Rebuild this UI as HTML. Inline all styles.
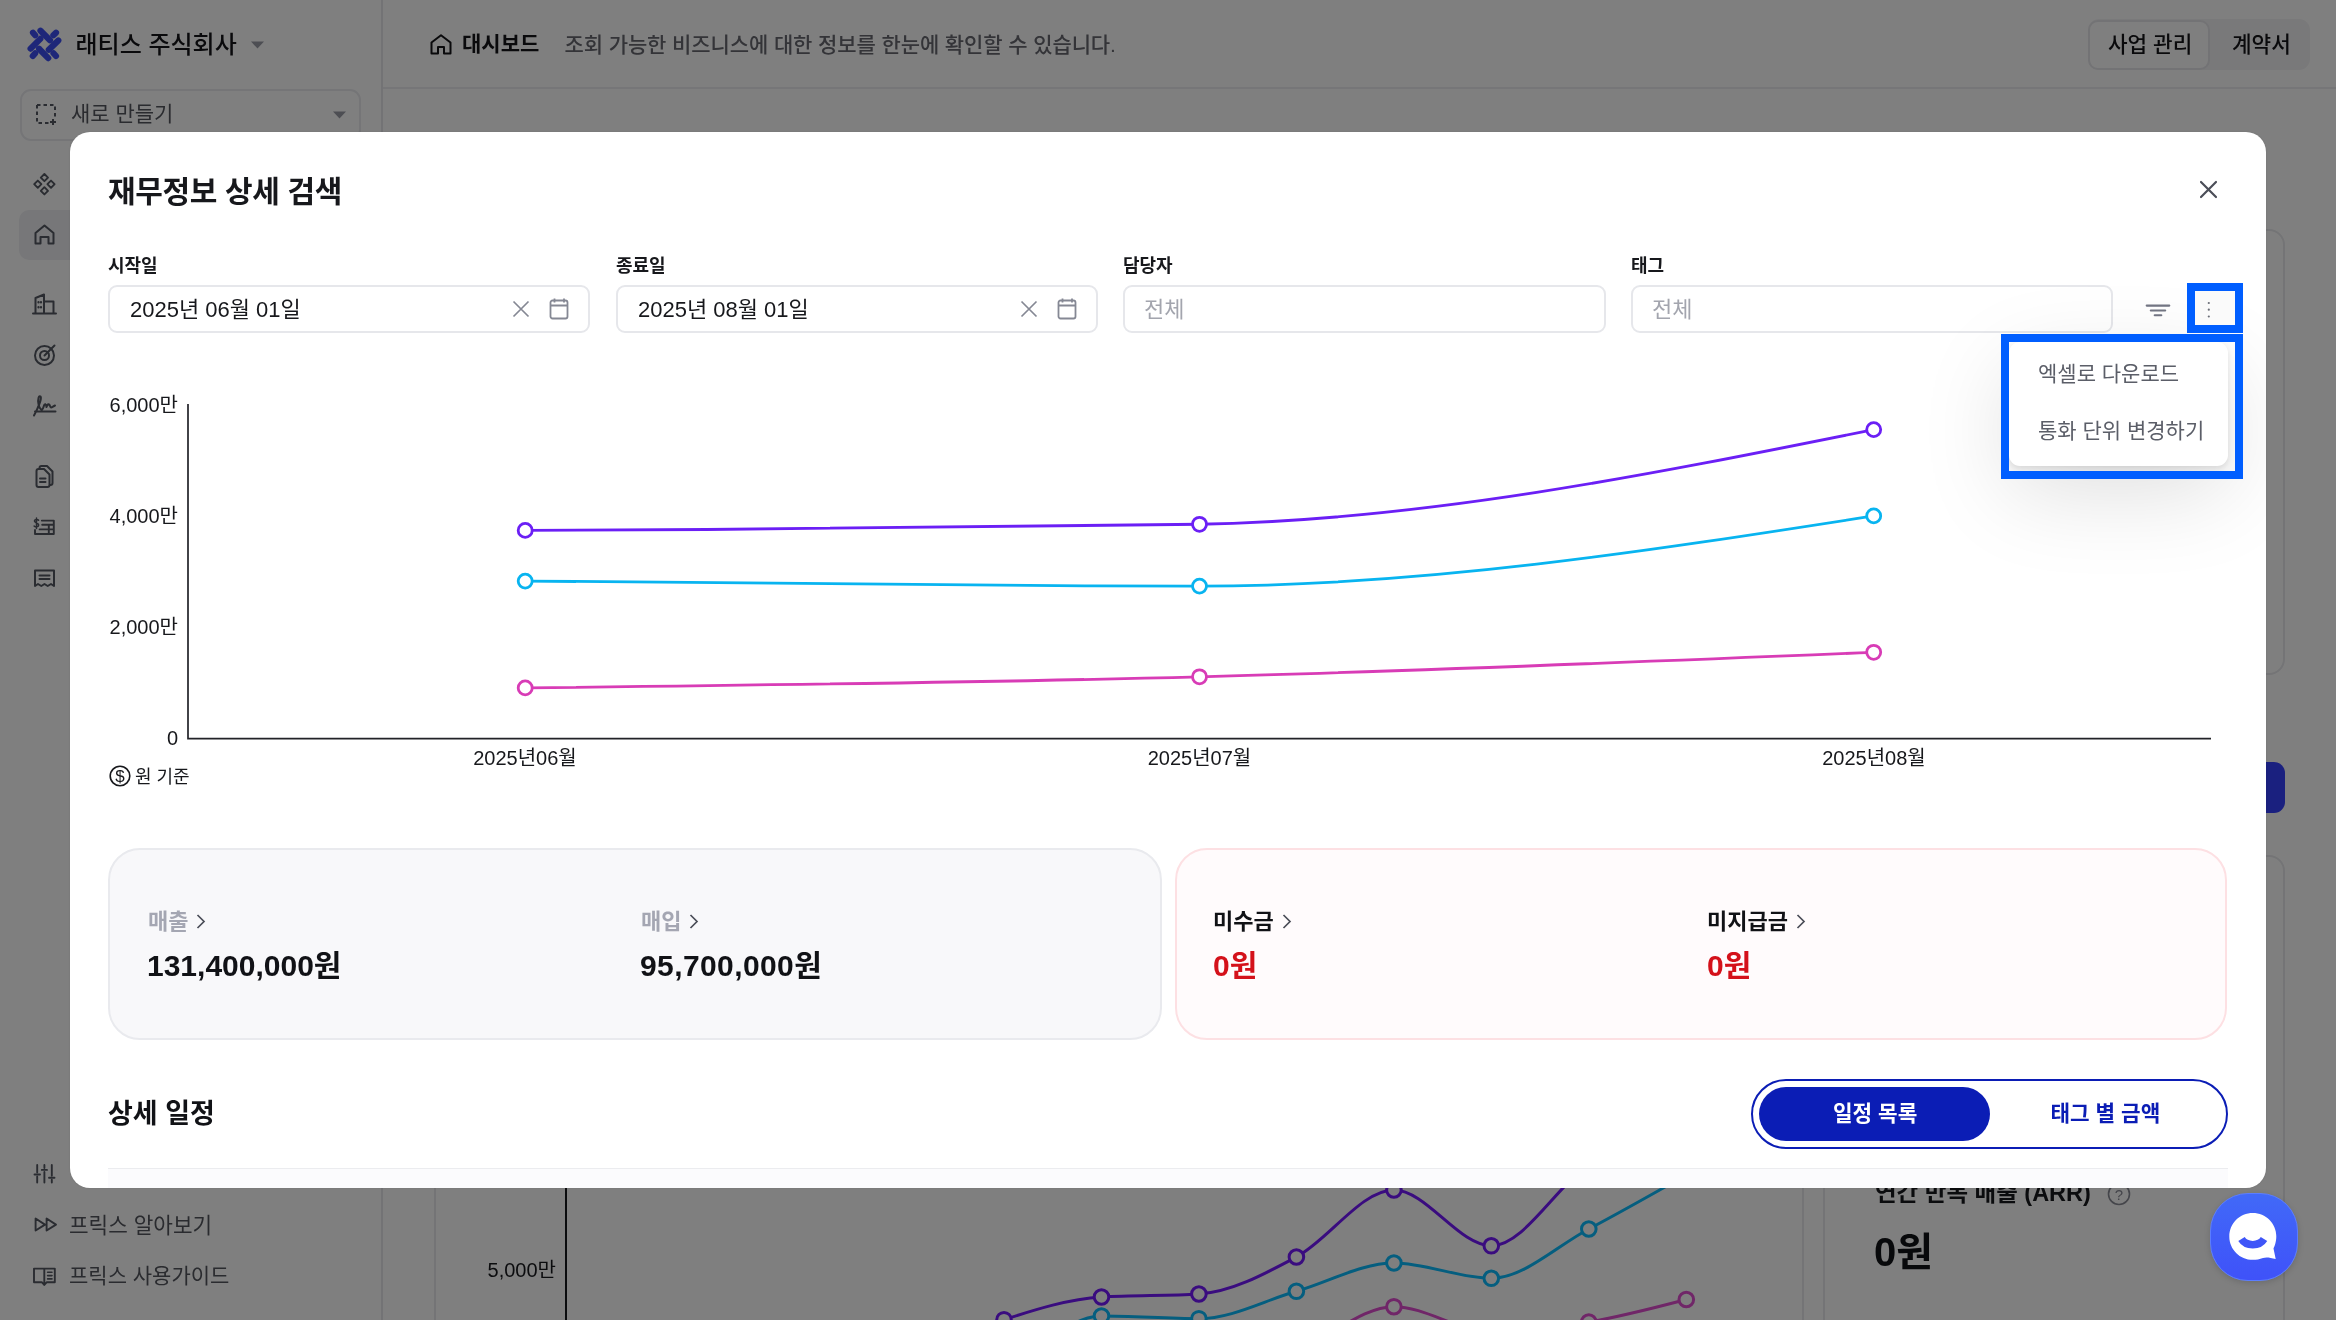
<!DOCTYPE html>
<html lang="ko">
<head>
<meta charset="utf-8">
<title>재무정보 상세 검색</title>
<style>
*{box-sizing:border-box;margin:0;padding:0}
html,body{width:100%;height:100%;overflow:hidden;background:#fff}
#root{position:absolute;left:0;top:0;width:2336px;height:1320px;overflow:hidden;transform-origin:0 0}
body{font-family:"Liberation Sans","Noto Sans CJK KR",sans-serif;color:#17181c;position:relative;-webkit-font-smoothing:antialiased}
#dash,#modal,#chat{will-change:transform}
.a{position:absolute;white-space:nowrap;line-height:1}
svg{position:absolute;overflow:visible}
#dash{position:absolute;left:0;top:0;width:2336px;height:1320px;background:#fff}
#side{position:absolute;left:0;top:0;width:383px;height:1320px;border-right:2px solid #e6e7eb;background:#fff}
#hdr{position:absolute;left:383px;top:0;right:0;height:89px;border-bottom:2px solid #ececf0}
#overlay{position:absolute;left:0;top:0;width:2336px;height:1320px;background:rgba(0,0,0,.5)}
#modal{position:absolute;left:70px;top:132px;width:2196px;height:1056px;background:#fff;border-radius:20px;overflow:hidden;box-shadow:0 0 2px rgba(0,0,0,.12)}
.lbl{font-size:18px;font-weight:700;color:#17181c}
.inp{position:absolute;top:152.5px;height:48.5px;border:2px solid #e6e7eb;border-radius:9px;background:#fff}
.inp .t{position:absolute;left:20px;top:12px;font-size:22px;line-height:1;white-space:nowrap;color:#17181c}
.inp .ph{color:#a3a5ae;left:19px}
.ylab{font-size:20px;color:#17181c;text-align:right;width:100px}
.xlab{font-size:20px;color:#17181c;text-align:center;width:160px}
.card{position:absolute;top:716px;height:192px;border-radius:32px}
.clbl{font-size:22px;font-weight:700}
.cval{font-size:30px;font-weight:700}
</style>
</head>
<body>
<div id="root">
<div id="dash">
  <div id="side">
    <svg style="left:0;top:0" width="70" height="70"><g stroke="#3c4ef2" stroke-width="6.2" stroke-linecap="round" fill="none"><line x1="33" y1="32.7" x2="35.2" y2="35.2"/><line x1="40.5" y1="30.8" x2="50" y2="40.3"/><line x1="53.4" y1="35.2" x2="56" y2="32.7"/><line x1="30.6" y1="48.6" x2="40.3" y2="38.9"/><line x1="48.8" y1="49.8" x2="58.3" y2="40.5"/><line x1="32.8" y1="56" x2="35.2" y2="53.2"/><line x1="39" y1="48.8" x2="48.2" y2="58.1"/><line x1="53.5" y1="53.2" x2="56" y2="56"/></g></svg>
    <div class="a" style="left:75.5px;top:32.5px;font-size:24px;font-weight:500;color:#141418;">래티스 주식회사</div>
    <svg style="left:251px;top:41px" width="13" height="8"><path d="M0,0.5 L13,0.5 L6.5,7.5 Z" fill="#9a9ca6"/></svg>
    <div style="position:absolute;left:20px;top:89px;width:341px;height:52px;border:2px solid #eaebef;border-radius:11px"></div>
    <svg style="left:36px;top:104px" width="22" height="22" viewBox="0 0 22 22">
      <path d="M1,1 H19 V15 M1,1 V19 H15" fill="none" stroke="#545862" stroke-width="2" stroke-dasharray="3.5 3"/>
      <path d="M17,15 V21 M14,18 H20" stroke="#545862" stroke-width="2"/>
    </svg>
    <div class="a" style="left:71px;top:103px;font-size:21px;font-weight:400;color:#55575f;">새로 만들기</div>
    <svg style="left:333px;top:111px" width="13" height="8"><path d="M0,0.5 L13,0.5 L6.5,7.5 Z" fill="#9a9ca6"/></svg>
    <div style="position:absolute;left:19px;top:210px;width:343px;height:50px;border-radius:10px;background:#eeeff2"></div>
    <svg style="left:0;top:0" width="382" height="1320" fill="none" stroke="#545862" stroke-width="2" stroke-linejoin="round" stroke-linecap="round">
      <path stroke-width="1.9" d="M44.4,174.0 L48.0,177.6 L44.4,181.2 L40.8,177.6 Z M44.4,187.20000000000002 L48.0,190.8 L44.4,194.4 L40.8,190.8 Z M37.8,180.6 L41.4,184.2 L37.8,187.79999999999998 L34.199999999999996,184.2 Z M51,180.6 L54.6,184.2 L51,187.79999999999998 L47.4,184.2 Z "/>
      <path d="M35.5,233 L44.5,225.5 L53.5,233 V243.5 H48.5 V237 H40.5 V243.5 H35.5 Z"/>
      <path d="M33,313.5 H56 M35.5,313.5 V298 L44,294.5 V313.5 M44,301.5 H53.5 V313.5"/>
      <path d="M38.5,302 v0.5 M41,302 v0.5 M38.5,307 v0.5 M41,307 v0.5" stroke-width="2.2"/>
      <circle cx="44.5" cy="355.5" r="9.5"/>
      <circle cx="44.5" cy="355.5" r="4.5"/>
      <path d="M44.5,355.5 L54.5,345.5"/>
      <path d="M34,415.5 C38,408 42,398 40.5,396.5 C39,395 37.5,399 38.5,404 C39.5,409 42,412 43.5,407 C45,402.5 46,404 46.5,407 C47.5,404 49,403 50,406 C51,409 52,407 55,405.5 M35,411.5 H55.5"/>
      <path d="M39.5,469 V468 a2,2 0 0 1 2,-2 H47 L52.5,471.5 V483 a2,2 0 0 1 -2,2 H50"/>
      <path d="M36.5,471 a2,2 0 0 1 2,-2 H44 L49.5,474.5 V485 a2,2 0 0 1 -2,2 H38.5 a2,2 0 0 1 -2,-2 Z"/>
      <path d="M40,478.5 H45.5 M40,482 H45.5"/>
      <path d="M35,530 V534 H53.8 V520.6 H41.8 M42.2,524.8 H53.8 M39.6,529.4 H53.8 M48.8,525 V534" stroke-width="1.9"/>
      <path d="M38.6,520.2 C37.8,519.3 34.4,519.1 34.4,521.1 C34.4,523.1 38.7,522.8 38.7,525 C38.7,527.2 35.1,527.3 34.1,526.1 M36.5,518 V528.4" stroke-width="1.5"/>
      <path d="M35,570.5 H54 V586 L51,584 L47.7,586 L44.5,584 L41.3,586 L38,584 L35,586 Z"/>
      <path d="M39.5,575.5 H49.5 M39.5,579 H49.5"/>
      <path d="M37.2,1165 V1172.5 M37.2,1176.5 V1182.5 M44.4,1165 V1168 M44.4,1172 V1182.5 M51.8,1165 V1175.7 M51.8,1179.7 V1182.5" stroke-width="1.9"/>
      <path d="M34.5,1174.5 H40 M41.8,1169.9 H47 M49,1177.7 H54.5" stroke-width="1.9"/>
      <path d="M35.6,1218.5 V1230.5 L45,1224.6 Z M46.6,1218.5 V1230.5 L56,1224.6 Z" stroke-width="1.9"/>
      <path d="M34,1268.6 H54.8 V1282.3 H46.6 L44.3,1285 L42,1282.3 H34 Z M44.3,1268.6 V1284" stroke-width="1.9"/><path d="M47.6,1272.3 H52 M47.6,1275.6 H52 M47.6,1278.9 H52" stroke-width="1.6"/>
    </svg>
    <div class="a" style="left:69px;top:1215.5px;font-size:21.3px;font-weight:400;color:#55575f;">프릭스 알아보기</div>
    <div class="a" style="left:69px;top:1265px;font-size:21px;font-weight:400;color:#55575f;">프릭스 사용가이드</div>
  </div>
  <div id="hdr">
    <svg style="left:47px;top:34px" width="22" height="21" viewBox="0 0 22 21"><path d="M1.5,8.5 L11,1.2 L20.5,8.5 V19.5 H14 V13 H8 V19.5 H1.5 Z" fill="none" stroke="#141418" stroke-width="2" stroke-linejoin="round"/></svg>
    <div class="a" style="left:79px;top:33px;font-size:21px;font-weight:700;color:#141418;">대시보드</div>
    <div class="a" style="left:181.5px;top:34px;font-size:21px;font-weight:500;color:#686971;letter-spacing:-0.1px">조회 가능한 비즈니스에 대한 정보를 한눈에 확인할 수 있습니다.</div>
    <div style="position:absolute;left:1705px;top:19px;width:222px;height:51px;border-radius:11px;background:#f3f3f5"></div>
    <div style="position:absolute;left:1705px;top:19.5px;width:122px;height:50px;border-radius:10px;background:#fff;border:2px solid #e6e6ea"></div>
    <div class="a" style="left:1725px;top:35px;font-size:21.3px;font-weight:500;color:#141418;">사업 관리</div>
    <div class="a" style="left:1849px;top:35px;font-size:21.3px;font-weight:500;color:#141418;">계약서</div>
  </div>
  <div style="position:absolute;left:1700px;top:229px;width:585px;height:446px;border:2px solid #e8e9ec;border-radius:16px"></div>
  <div style="position:absolute;left:2100px;top:762px;width:185px;height:51px;border-radius:11px;background:#3540ff"></div>
  <div style="position:absolute;left:434px;top:855px;width:1851px;height:600px;border:2px solid #e8e9ec;border-radius:16px"></div>
  <div style="position:absolute;left:1802px;top:855px;width:2px;height:600px;background:#e8e9ec"></div>
  <div style="position:absolute;left:1822.5px;top:855px;width:2px;height:600px;background:#e8e9ec"></div>
  <div style="position:absolute;left:565px;top:1100px;width:2px;height:300px;background:#17181c"></div>
  <div class="a" style="left:456px;top:1259.5px;font-size:20px;font-weight:400;color:#17181c;width:100px;text-align:right">5,000만</div>
  <svg style="left:0;top:0" width="2336" height="1320">
<path d="M614.10,1400.00 C646.59,1396.67 679.08,1393.33 711.57,1390.00 C744.06,1386.67 776.55,1385.00 809.04,1380.00 C841.53,1375.00 874.02,1370.05 906.51,1360.00 C939.00,1349.95 971.49,1330.20 1003.98,1319.70 C1036.47,1309.20 1068.96,1299.00 1101.45,1297.00 C1133.94,1295.00 1166.43,1296.00 1198.92,1294.00 C1231.41,1292.00 1263.90,1274.33 1296.39,1257.00 C1328.88,1239.67 1361.37,1190.00 1393.86,1190.00 C1426.35,1190.00 1458.84,1245.80 1491.33,1245.80 C1523.82,1245.80 1556.31,1185.97 1588.80,1165.00 C1621.29,1144.03 1653.78,1132.02 1686.27,1120.00" fill="none" stroke="#7418ff" stroke-width="3"/>
<circle cx="1004.0" cy="1319.7" r="7.3" fill="#fff" stroke="#7418ff" stroke-width="3"/>
<circle cx="1101.5" cy="1297.0" r="7.3" fill="#fff" stroke="#7418ff" stroke-width="3"/>
<circle cx="1198.9" cy="1294.0" r="7.3" fill="#fff" stroke="#7418ff" stroke-width="3"/>
<circle cx="1296.4" cy="1257.0" r="7.3" fill="#fff" stroke="#7418ff" stroke-width="3"/>
<circle cx="1393.9" cy="1190.0" r="7.3" fill="#fff" stroke="#7418ff" stroke-width="3"/>
<circle cx="1491.3" cy="1245.8" r="7.3" fill="#fff" stroke="#7418ff" stroke-width="3"/>
<circle cx="1588.8" cy="1165.0" r="7.3" fill="#fff" stroke="#7418ff" stroke-width="3"/>
<circle cx="1686.3" cy="1120.0" r="7.3" fill="#fff" stroke="#7418ff" stroke-width="3"/>
<path d="M614.10,1420.00 C646.59,1416.67 679.08,1413.33 711.57,1410.00 C744.06,1406.67 776.55,1403.33 809.04,1400.00 C841.53,1396.67 874.02,1395.83 906.51,1390.00 C939.00,1384.17 971.49,1377.33 1003.98,1365.00 C1036.47,1352.67 1068.96,1316.00 1101.45,1316.00 C1133.94,1316.00 1166.43,1318.70 1198.92,1318.70 C1231.41,1318.70 1263.90,1300.58 1296.39,1291.30 C1328.88,1282.02 1361.37,1263.00 1393.86,1263.00 C1426.35,1263.00 1458.84,1278.30 1491.33,1278.30 C1523.82,1278.30 1556.31,1246.22 1588.80,1229.00 C1621.29,1211.78 1653.78,1193.39 1686.27,1175.00" fill="none" stroke="#0bbcff" stroke-width="3"/>
<circle cx="1101.5" cy="1316.0" r="7.3" fill="#fff" stroke="#0bbcff" stroke-width="3"/>
<circle cx="1198.9" cy="1318.7" r="7.3" fill="#fff" stroke="#0bbcff" stroke-width="3"/>
<circle cx="1296.4" cy="1291.3" r="7.3" fill="#fff" stroke="#0bbcff" stroke-width="3"/>
<circle cx="1393.9" cy="1263.0" r="7.3" fill="#fff" stroke="#0bbcff" stroke-width="3"/>
<circle cx="1491.3" cy="1278.3" r="7.3" fill="#fff" stroke="#0bbcff" stroke-width="3"/>
<circle cx="1588.8" cy="1229.0" r="7.3" fill="#fff" stroke="#0bbcff" stroke-width="3"/>
<circle cx="1686.3" cy="1175.0" r="7.3" fill="#fff" stroke="#0bbcff" stroke-width="3"/>
<path d="M614.10,1460.00 C646.59,1456.67 679.08,1453.33 711.57,1450.00 C744.06,1446.67 776.55,1445.00 809.04,1440.00 C841.53,1435.00 874.02,1426.67 906.51,1420.00 C939.00,1413.33 971.49,1406.67 1003.98,1400.00 C1036.47,1393.33 1068.96,1385.00 1101.45,1380.00 C1133.94,1375.00 1166.43,1375.00 1198.92,1370.00 C1231.41,1365.00 1263.90,1360.55 1296.39,1350.00 C1328.88,1339.45 1361.37,1306.70 1393.86,1306.70 C1426.35,1306.70 1458.84,1332.00 1491.33,1332.00 C1523.82,1332.00 1556.31,1327.42 1588.80,1322.00 C1621.29,1316.58 1653.78,1308.04 1686.27,1299.50" fill="none" stroke="#e04cd0" stroke-width="3"/>
<circle cx="1393.9" cy="1306.7" r="7.3" fill="#fff" stroke="#e04cd0" stroke-width="3"/>
<circle cx="1491.3" cy="1332.0" r="7.3" fill="#fff" stroke="#e04cd0" stroke-width="3"/>
<circle cx="1588.8" cy="1322.0" r="7.3" fill="#fff" stroke="#e04cd0" stroke-width="3"/>
<circle cx="1686.3" cy="1299.5" r="7.3" fill="#fff" stroke="#e04cd0" stroke-width="3"/>
  </svg>
  <div class="a" style="left:1875px;top:1182px;font-size:23.5px;font-weight:700;color:#17181c;">연간 반복 매출 (ARR)</div>
  <svg style="left:2107px;top:1182px" width="24" height="24" viewBox="0 0 24 24"><circle cx="12" cy="12" r="10.5" fill="none" stroke="#8a8c96" stroke-width="1.6"/><text x="12" y="17.5" text-anchor="middle" font-size="15" font-family="Liberation Sans,sans-serif" fill="#8a8c96">?</text></svg>
  <div class="a" style="left:1874px;top:1232px;font-size:40px;font-weight:700;color:#111216;">0원</div>
</div>
<div id="overlay"></div>

<div id="modal">
  <div class="a" style="left:38px;top:45px;font-size:30px;font-weight:700;color:#17181c;letter-spacing:-0.35px">재무정보 상세 검색</div>
  <svg style="left:2130px;top:49px" width="17" height="17" viewBox="0 0 17 17"><path d="M1,1 L16,16 M16,1 L1,16" stroke="#4b4e58" stroke-width="2.2" stroke-linecap="round"/></svg>

  <div class="a lbl" style="left:38px;top:125px">시작일</div>
  <div class="a lbl" style="left:546px;top:125px">종료일</div>
  <div class="a lbl" style="left:1053px;top:125px">담당자</div>
  <div class="a lbl" style="left:1561px;top:125px">태그</div>

  <div class="inp" style="left:38px;width:482px"><div class="t">2025년 06월 01일</div></div>
  <div class="inp" style="left:546px;width:482px"><div class="t">2025년 08월 01일</div></div>
  <div class="inp" style="left:1053px;width:483px"><div class="t ph">전체</div></div>
  <div class="inp" style="left:1561px;width:482px"><div class="t ph">전체</div></div>

  <svg style="left:442.5px;top:169px" width="16" height="16" viewBox="0 0 16 16"><path d="M0.5,0.5 L15.5,15.5 M15.5,0.5 L0.5,15.5" stroke="#858894" stroke-width="1.7"/></svg>
  <svg style="left:479px;top:166px" width="20" height="22" viewBox="0 0 20 22"><rect x="1.5" y="2.5" width="17" height="18" rx="2" fill="none" stroke="#858894" stroke-width="1.8"/><path d="M1.5,7.5 H18.5" stroke="#858894" stroke-width="1.8"/><path d="M5.5,0.5 V4.5 M15,0.5 V4.5" stroke="#858894" stroke-width="1.8"/></svg>
  <svg style="left:950.5px;top:169px" width="16" height="16" viewBox="0 0 16 16"><path d="M0.5,0.5 L15.5,15.5 M15.5,0.5 L0.5,15.5" stroke="#858894" stroke-width="1.7"/></svg>
  <svg style="left:987px;top:166px" width="20" height="22" viewBox="0 0 20 22"><rect x="1.5" y="2.5" width="17" height="18" rx="2" fill="none" stroke="#858894" stroke-width="1.8"/><path d="M1.5,7.5 H18.5" stroke="#858894" stroke-width="1.8"/><path d="M5.5,0.5 V4.5 M15,0.5 V4.5" stroke="#858894" stroke-width="1.8"/></svg>
  <svg style="left:2075px;top:171px" width="26" height="15" viewBox="0 0 26 15"><path d="M1.7,2.6 H24.3 M5.8,7.5 H20.2 M9.7,12.3 H16.3" stroke="#737684" stroke-width="2.1" stroke-linecap="round"/></svg>

  <svg style="left:0;top:0" width="2196" height="1056">
    <path d="M118,272 V606.6 H2141" fill="none" stroke="#222328" stroke-width="1.7"/>
<path d="M455.20,398.39 C679.97,397.37 904.73,396.35 1129.50,392.27 C1354.23,388.19 1578.97,342.91 1803.70,297.63" fill="none" stroke="#6b1ff5" stroke-width="2.8"/>
<circle cx="455.2" cy="398.4" r="7" fill="#fff" stroke="#6b1ff5" stroke-width="2.8"/>
<circle cx="1129.5" cy="392.3" r="7" fill="#fff" stroke="#6b1ff5" stroke-width="2.8"/>
<circle cx="1803.7" cy="297.6" r="7" fill="#fff" stroke="#6b1ff5" stroke-width="2.8"/>
<path d="M455.20,449.05 C679.97,451.56 904.73,454.06 1129.50,454.06 C1354.23,454.06 1578.97,418.99 1803.70,383.92" fill="none" stroke="#08b4f0" stroke-width="2.8"/>
<circle cx="455.2" cy="449.1" r="7" fill="#fff" stroke="#08b4f0" stroke-width="2.8"/>
<circle cx="1129.5" cy="454.1" r="7" fill="#fff" stroke="#08b4f0" stroke-width="2.8"/>
<circle cx="1803.7" cy="383.9" r="7" fill="#fff" stroke="#08b4f0" stroke-width="2.8"/>
<path d="M455.20,555.94 C679.97,553.34 904.73,550.75 1129.50,544.81 C1354.23,538.87 1578.97,529.59 1803.70,520.31" fill="none" stroke="#d83cb6" stroke-width="2.8"/>
<circle cx="455.2" cy="555.9" r="7" fill="#fff" stroke="#d83cb6" stroke-width="2.8"/>
<circle cx="1129.5" cy="544.8" r="7" fill="#fff" stroke="#d83cb6" stroke-width="2.8"/>
<circle cx="1803.7" cy="520.3" r="7" fill="#fff" stroke="#d83cb6" stroke-width="2.8"/>
  </svg>
  <div class="a ylab" style="left:8px;top:262.5px">6,000만</div>
  <div class="a ylab" style="left:8px;top:373.5px">4,000만</div>
  <div class="a ylab" style="left:8px;top:484.5px">2,000만</div>
  <div class="a ylab" style="left:8px;top:596px">0</div>
  <div class="a xlab" style="left:375px;top:616px">2025년06월</div>
  <div class="a xlab" style="left:1049.5px;top:616px">2025년07월</div>
  <div class="a xlab" style="left:1724px;top:616px">2025년08월</div>
  <svg style="left:39px;top:633px" width="22" height="22" viewBox="0 0 22 22"><circle cx="11" cy="11" r="9.8" fill="none" stroke="#17181c" stroke-width="1.6"/><text x="11" y="16.9" text-anchor="middle" font-size="17" font-weight="400" font-family="Liberation Sans,sans-serif" fill="#17181c">$</text></svg>
  <div class="a" style="left:65px;top:636px;font-size:18px;font-weight:400;color:#17181c;">원 기준</div>

  <div class="card" style="left:38px;width:1054px;background:#f8f8fa;border:2px solid #e9eaee"></div>
  <div class="card" style="left:1104.5px;width:1052.5px;background:#fffbfc;border:2px solid #fde0e3"></div>
  <div class="a" style="left:78px;top:778.5px;font-size:22px;font-weight:700;color:#a4a6b2;">매출</div>
  <svg style="left:126px;top:782px" width="10" height="15" viewBox="0 0 10 15"><path d="M1.5,1 L8,7.5 L1.5,14" fill="none" stroke="#4a4d57" stroke-width="1.7"/></svg>
  <div class="a" style="left:77px;top:819.2px;font-size:30px;font-weight:700;color:#111216;">131,400,000원</div>
  <div class="a" style="left:571px;top:778.5px;font-size:22px;font-weight:700;color:#a4a6b2;">매입</div>
  <svg style="left:619px;top:782px" width="10" height="15" viewBox="0 0 10 15"><path d="M1.5,1 L8,7.5 L1.5,14" fill="none" stroke="#4a4d57" stroke-width="1.7"/></svg>
  <div class="a" style="left:570px;top:819.2px;font-size:30px;font-weight:700;color:#111216;letter-spacing:0.4px">95,700,000원</div>
  <div class="a" style="left:1143px;top:778.5px;font-size:22px;font-weight:700;color:#111216;">미수금</div>
  <svg style="left:1212px;top:782px" width="10" height="15" viewBox="0 0 10 15"><path d="M1.5,1 L8,7.5 L1.5,14" fill="none" stroke="#4a4d57" stroke-width="1.7"/></svg>
  <div class="a" style="left:1143px;top:819.2px;font-size:30px;font-weight:700;color:#d4111a;">0원</div>
  <div class="a" style="left:1637px;top:778.5px;font-size:22px;font-weight:700;color:#111216;">미지급금</div>
  <svg style="left:1726px;top:782px" width="10" height="15" viewBox="0 0 10 15"><path d="M1.5,1 L8,7.5 L1.5,14" fill="none" stroke="#4a4d57" stroke-width="1.7"/></svg>
  <div class="a" style="left:1637px;top:819.2px;font-size:30px;font-weight:700;color:#d4111a;">0원</div>

  <div class="a" style="left:38px;top:968.5px;font-size:27px;font-weight:700;color:#111216;">상세 일정</div>
  <div style="position:absolute;left:1681px;top:946.5px;width:477px;height:70px;border:2px solid #0b1db5;border-radius:35px"></div>
  <div style="position:absolute;left:1689px;top:954.5px;width:231px;height:54px;background:#0b1db5;border-radius:27px"></div>
  <div class="a" style="left:1763px;top:972px;font-size:21.3px;font-weight:700;color:#fff;">일정 목록</div>
  <div class="a" style="left:1980.5px;top:972px;font-size:21.3px;font-weight:700;color:#0b1db5;">태그 별 금액</div>
  <div style="position:absolute;left:38px;top:1035.5px;width:2120px;height:1.5px;background:#ebecef"></div>
  <div style="position:absolute;left:38px;top:1037px;width:2120px;height:18.5px;background:#fbfbfd"></div>

  <div style="position:absolute;left:1939px;top:209.5px;width:219px;height:124.5px;border-radius:11px;background:#fff;box-shadow:0 3px 6px rgba(0,0,0,.10),0 26px 90px rgba(0,0,0,.13)"></div>
  <div style="position:absolute;left:1931px;top:201.5px;width:242px;height:145.5px;border:8px solid #005eff"></div>
  <div class="a" style="left:1968px;top:231px;font-size:21px;font-weight:400;color:#5b5e68;">엑셀로 다운로드</div>
  <div class="a" style="left:1968px;top:287.5px;font-size:21px;font-weight:400;color:#5b5e68;">통화 단위 변경하기</div>
  <div style="position:absolute;left:2117px;top:151px;width:56px;height:50px;border:8px solid #005eff;background:#fafafa"></div>
  <svg style="left:2137px;top:169px" width="4" height="17"><circle cx="1.8" cy="2" r="1.1" fill="#6a6d77"/><circle cx="1.8" cy="8.7" r="1.1" fill="#6a6d77"/><circle cx="1.8" cy="15.5" r="1.1" fill="#6a6d77"/></svg>
</div>

<div id="chat" style="position:absolute;left:2209.5px;top:1193px;width:88px;height:88px;border-radius:38px;background:linear-gradient(180deg,#4169f8 0%,#3f52f9 100%);border:1.5px solid #5b7dff;box-shadow:0 2px 6px rgba(0,0,0,.15)">
  <svg style="left:-2.1px;top:-2px" width="88" height="88" viewBox="0 0 88 88">
    <path d="M43.8,21 C56.8,21 67.3,31.5 67.3,44.3 C67.3,50 65.6,54.5 64.5,56.5 L66.7,67 C61,65.5 57,65 54,66 C50.5,67.3 47.5,67.8 43.8,67.8 C30.8,67.8 20.3,57.3 20.3,44.4 C20.3,31.5 30.8,21 43.8,21 Z" fill="#fff"/>
    <path d="M32.5,47 C37,54.5 50.5,54.5 55,47" fill="none" stroke="#3f55f8" stroke-width="7.5" stroke-linecap="butt"/>
  </svg>
</div>
</div>
<script>(function(){var r=document.getElementById("root");var s=window.innerWidth/2336;if(s>0&&Math.abs(s-1)>0.002){r.style.transform="scale("+s+")";}})();</script>
</body>
</html>
